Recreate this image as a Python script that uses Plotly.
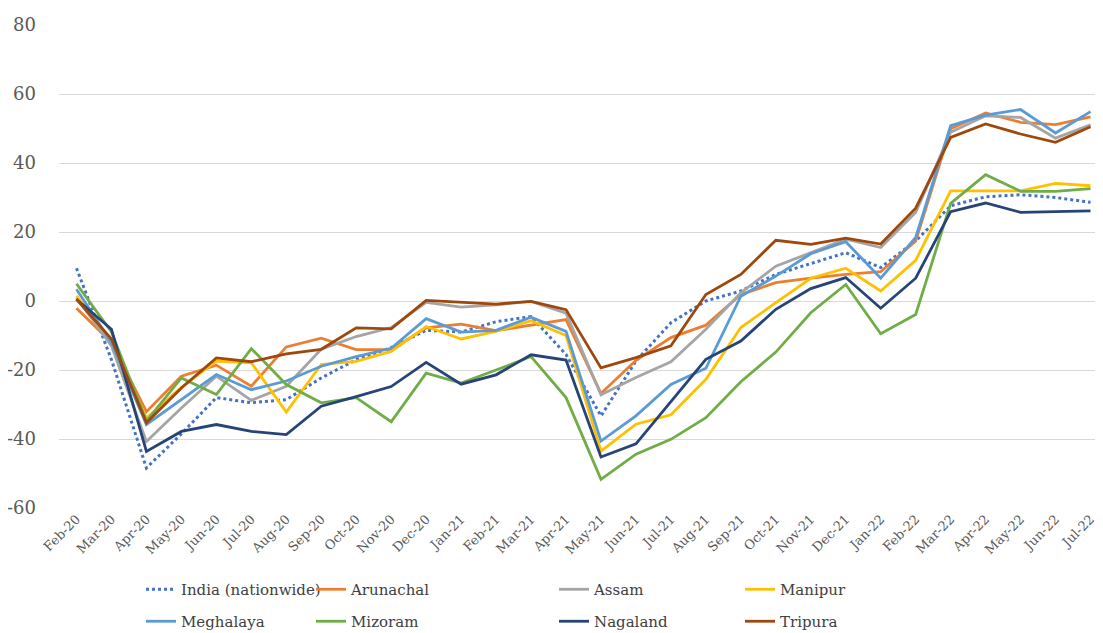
import plotly.graph_objects as go

months = ["Feb-20","Mar-20","Apr-20","May-20","Jun-20","Jul-20","Aug-20","Sep-20","Oct-20","Nov-20",
          "Dec-20","Jan-21","Feb-21","Mar-21","Apr-21","May-21","Jun-21","Jul-21","Aug-21","Sep-21",
          "Oct-21","Nov-21","Dec-21","Jan-22","Feb-22","Mar-22","Apr-22","May-22","Jun-22","Jul-22"]

india     = [9.5,-17,-48.4,-38.5,-28,-29.5,-28.6,-22.3,-17,-13.5,-8.5,-9,-6,-4.5,-15.5,-33.3,-17.4,-6.3,0,2.9,7.7,10.8,14,9.7,17.4,27.6,30.2,30.8,30,28.6]
arunachal = [-2.1,-12,-32.1,-21.8,-18.6,-24.7,-13.3,-10.8,-14.1,-14.1,-7.8,-6.7,-8.6,-7.1,-5.4,-26.8,-17.2,-10.6,-7,1.9,5.3,6.6,7.7,8.5,17.4,49.9,54.5,51.8,51.1,53.4]
assam     = [1,-13,-40.7,-31,-21.8,-28.8,-24.7,-14,-10.3,-7.7,-0.4,-1.8,-1.1,-0.1,-3.5,-27.2,-22.2,-17.6,-8.2,2.4,10.1,14,17.9,15.5,25.7,48.9,53.7,53.2,47.2,51.1]
manipur   = [1.5,-11.6,-33.9,-25,-17.4,-17.9,-32.2,-18.4,-17.5,-14.6,-7.4,-11,-8.8,-5.7,-10,-43.5,-35.7,-33,-22.7,-7.7,-0.5,6.6,9.5,2.9,11.8,31.9,31.9,31.9,34.1,33.4]
meghalaya = [3.4,-12,-35.8,-28.6,-21.3,-25.7,-23.2,-18.9,-16.1,-13.7,-5.1,-9,-8.5,-4.7,-8.8,-40.6,-33.3,-24.2,-19.5,1.4,7.2,13.7,17.2,6.6,18.4,50.8,53.9,55.5,48.7,54.9]
mizoram   = [5,-9,-34.8,-22.3,-27.1,-13.8,-24.2,-29.5,-28,-35,-20.9,-23.8,-20,-16.1,-28,-51.7,-44.4,-40.1,-33.8,-23.4,-14.8,-3.4,4.8,-9.5,-3.9,28.3,36.6,31.8,31.8,32.6]
nagaland  = [0.5,-8.2,-43.6,-37.8,-35.8,-37.8,-38.7,-30.5,-27.7,-24.8,-17.8,-24.1,-21.4,-15.6,-17.1,-45.2,-41.4,-29,-16.9,-11.6,-2.4,3.6,6.8,-2.1,6.6,25.9,28.4,25.7,25.9,26.1]
tripura   = [0.5,-11,-35.3,-25.2,-16.5,-17.6,-15.3,-14,-7.8,-8.1,0.2,-0.4,-0.9,-0.1,-2.5,-19.4,-16.4,-13,1.9,7.7,17.6,16.4,18.2,16.5,26.9,47.4,51.3,48.4,46,50.5]

y_tick_vals = [-60, -40, -20, 0, 20, 40, 60, 80]
y_tick_labels = ["-60", "-40", "-20", "0", "20", "40", "60", "80"]

series_names = ["India (nationwide)","Arunachal","Assam","Manipur","Meghalaya","Mizoram","Nagaland","Tripura"]
series_vals = [india, arunachal, assam, manipur, meghalaya, mizoram, nagaland, tripura]
colors = ["#4472C4","#ED7D31","#A5A5A5","#FFC000","#5B9BD5","#70AD47","#264478","#9E480E"]
dashes = ["dot","solid","solid","solid","solid","solid","solid","solid"]

SERIF = "DejaVu Serif"

W, H = 1103, 633
# legend positions (pixels, top-left) in a 4x2 grid
leg_px = [(133,565),(303,565),(546,565),(732,565),
          (133,597),(303,597),(546,597),(732,597)]

fig = go.Figure()
layout_legends = {}
for i, (name, vals, col, dsh) in enumerate(zip(series_names, series_vals, colors, dashes)):
    lname = "legend" if i == 0 else f"legend{i+1}"
    fig.add_trace(go.Scatter(
        x=months, y=vals, mode="lines", name=name,
        line=dict(color=col, width=3 if dsh == "dot" else 2.8, dash=dsh),
        legend=lname))
    px, py = leg_px[i]
    layout_legends[lname] = dict(
        x=px / W, y=1 - py / H, xref="container", yref="container",
        xanchor="left", yanchor="top", orientation="v",
        bgcolor="rgba(0,0,0,0)", borderwidth=0,
        font=dict(family=SERIF, size=15, color="#404040"),
        itemwidth=30)

fig.update_layout(
    width=W, height=H,
    margin=dict(l=51, r=3, t=17, b=133, autoexpand=False),
    plot_bgcolor="white", paper_bgcolor="white",
    font=dict(family=SERIF),
    showlegend=True,
    **layout_legends,
)
fig.update_xaxes(
    type="category", range=[-0.5, 29.5], tickangle=-45,
    showgrid=False, showline=False, ticks="",
    tickfont=dict(family=SERIF, size=13, color="#595959"),
)
fig.update_yaxes(
    range=[-60, 80], tickmode="array", tickvals=y_tick_vals, ticktext=y_tick_labels,
    showgrid=True, gridcolor="#D9D9D9", gridwidth=1.3,
    zeroline=False, showline=False, ticks="", ticklabelstandoff=22,
    tickfont=dict(family=SERIF, size=18, color="#595959"),
)

fig.write_html("out.html")
